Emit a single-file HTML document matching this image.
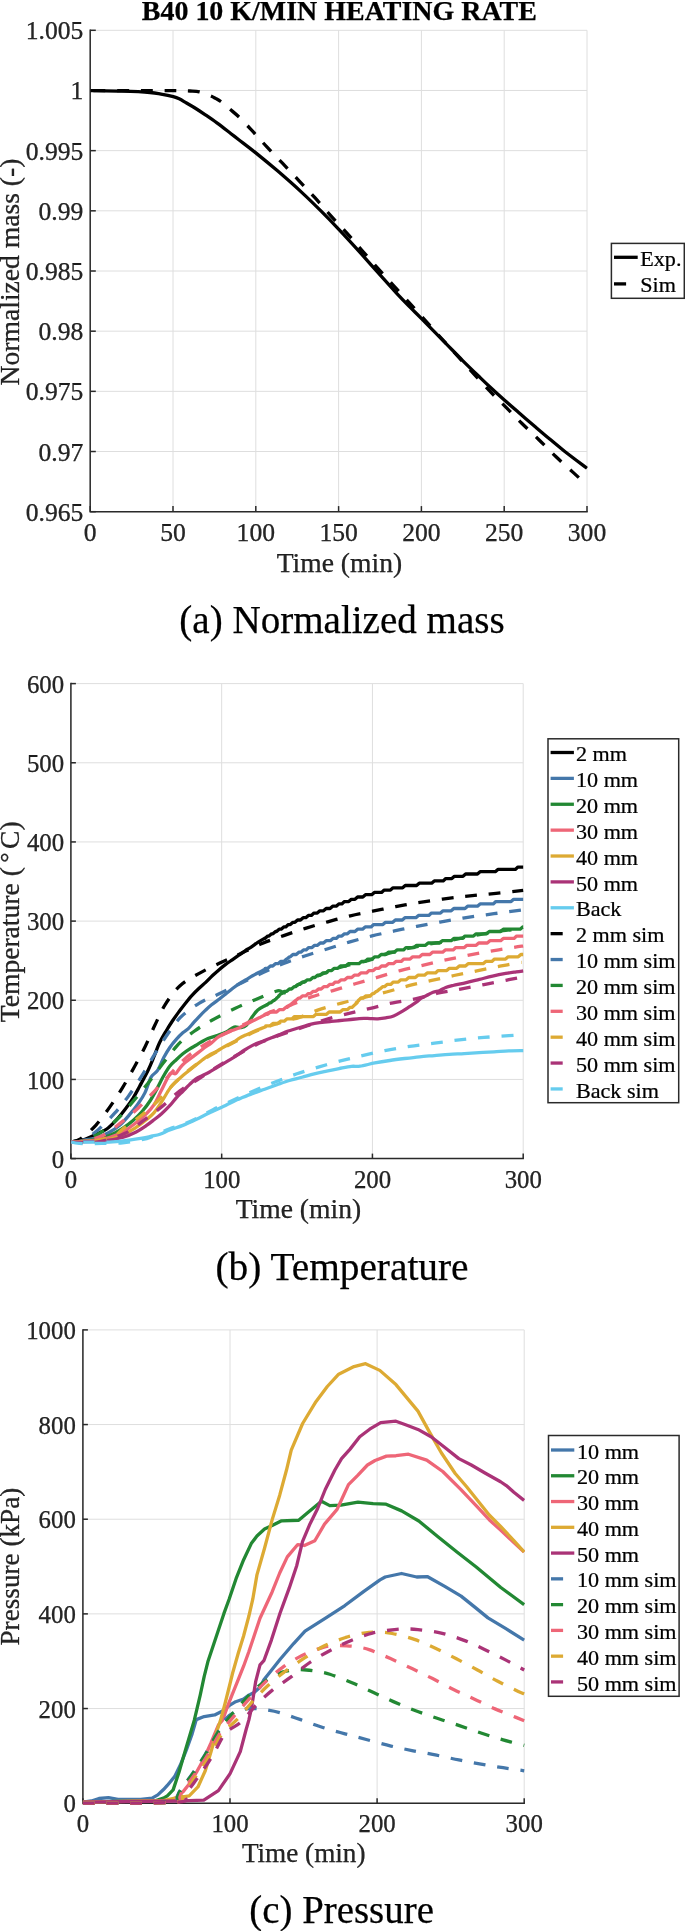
<!DOCTYPE html>
<html lang="en"><head><meta charset="utf-8"><title>B40 10 K/min heating rate</title>
<style>html,body{margin:0;padding:0;background:#fff}body{width:685px;height:1931px;overflow:hidden}svg{display:block;will-change:transform}text{font-family:"Liberation Serif", "Times New Roman", Times, serif;stroke:currentColor;stroke-width:.25px}</style>
</head><body>
<svg width="685" height="1931" viewBox="0 0 685 1931">
<rect width="685" height="1931" fill="#fff"/>
<defs>
<clipPath id="ca"><rect x="88.5" y="30.3" width="499.3" height="483.4"/></clipPath>
<clipPath id="cb"><rect x="69.2" y="683.6" width="454.8" height="477"/></clipPath>
<clipPath id="cc"><rect x="81.2" y="1329.9" width="443.8" height="475.3"/></clipPath>
</defs>
<text x="141.8" y="19.5" font-size="26.6" font-weight="bold" textLength="395" lengthAdjust="spacingAndGlyphs" fill="#000">B40 10 K/MIN HEATING RATE</text>
<g stroke="#dedede" stroke-width="1">
<line x1="90.2" y1="30.3" x2="90.2" y2="511.7"/>
<line x1="173" y1="30.3" x2="173" y2="511.7"/>
<line x1="255.8" y1="30.3" x2="255.8" y2="511.7"/>
<line x1="338.6" y1="30.3" x2="338.6" y2="511.7"/>
<line x1="421.4" y1="30.3" x2="421.4" y2="511.7"/>
<line x1="504.2" y1="30.3" x2="504.2" y2="511.7"/>
<line x1="587" y1="30.3" x2="587" y2="511.7"/>
<line x1="90.2" y1="511.7" x2="587" y2="511.7"/>
<line x1="90.2" y1="451.52" x2="587" y2="451.52"/>
<line x1="90.2" y1="391.35" x2="587" y2="391.35"/>
<line x1="90.2" y1="331.18" x2="587" y2="331.18"/>
<line x1="90.2" y1="271" x2="587" y2="271"/>
<line x1="90.2" y1="210.82" x2="587" y2="210.82"/>
<line x1="90.2" y1="150.65" x2="587" y2="150.65"/>
<line x1="90.2" y1="90.48" x2="587" y2="90.48"/>
<line x1="90.2" y1="30.3" x2="587" y2="30.3"/>
</g>
<g stroke="#2a2a2a" stroke-width="1.5" fill="none">
<path d="M90.2 29.55 V511.7 H587.75"/>
<line x1="90.2" y1="511.7" x2="90.2" y2="506.1"/>
<line x1="173" y1="511.7" x2="173" y2="506.1"/>
<line x1="255.8" y1="511.7" x2="255.8" y2="506.1"/>
<line x1="338.6" y1="511.7" x2="338.6" y2="506.1"/>
<line x1="421.4" y1="511.7" x2="421.4" y2="506.1"/>
<line x1="504.2" y1="511.7" x2="504.2" y2="506.1"/>
<line x1="587" y1="511.7" x2="587" y2="506.1"/>
<line x1="90.2" y1="511.7" x2="95.8" y2="511.7"/>
<line x1="90.2" y1="451.52" x2="95.8" y2="451.52"/>
<line x1="90.2" y1="391.35" x2="95.8" y2="391.35"/>
<line x1="90.2" y1="331.18" x2="95.8" y2="331.18"/>
<line x1="90.2" y1="271" x2="95.8" y2="271"/>
<line x1="90.2" y1="210.82" x2="95.8" y2="210.82"/>
<line x1="90.2" y1="150.65" x2="95.8" y2="150.65"/>
<line x1="90.2" y1="90.48" x2="95.8" y2="90.48"/>
<line x1="90.2" y1="30.3" x2="95.8" y2="30.3"/>
</g>
<g fill="none" stroke-width="3.3" stroke-linejoin="round" clip-path="url(#ca)">
<path d="M90.6 90.6 C95.83 90.7 112.1 90.88 122 91.2 C131.9 91.52 143.5 92.02 150 92.5 C156.5 92.98 157.12 93.4 161 94.1 C164.88 94.8 170.27 95.92 173.3 96.7 C176.33 97.48 177 97.75 179.2 98.8 C181.4 99.85 183.87 101.47 186.5 103 C189.13 104.53 191.92 106.07 195 108 C198.08 109.93 201.35 112.12 205 114.6 C208.65 117.08 212.57 119.72 216.9 122.9 C221.23 126.08 227.35 130.9 231 133.7 C234.65 136.5 234.62 136.47 238.8 139.7 C242.98 142.93 249.7 147.95 256.1 153.1 C262.5 158.25 269.55 164.02 277.2 170.6 C284.85 177.18 294.55 185.72 302 192.6 C309.45 199.48 315.77 205.78 321.9 211.9 C328.03 218.02 333.02 223.18 338.8 229.3 C344.58 235.42 350.73 242.12 356.6 248.6 C362.47 255.08 367.43 260.87 374 268.2 C380.57 275.53 390 286.1 396 292.6 C402 299.1 405.75 302.87 410 307.2 C414.25 311.53 415.5 312.53 421.5 318.6 C427.5 324.67 439.18 336.65 446 343.6 C452.82 350.55 456.9 354.82 462.4 360.3 C467.9 365.78 474.4 372.05 479 376.5 C483.6 380.95 485.78 383.08 490 387 C494.22 390.92 499.33 395.58 504.3 400 C509.27 404.42 514.6 409 519.8 413.5 C525 418 530.47 422.7 535.5 427 C540.53 431.3 545.17 435.27 550 439.3 C554.83 443.33 558.33 446.37 564.5 451.2 C570.67 456.03 583.25 465.45 587 468.3" stroke="#000000"/>
<path d="M90.6 90.6 C100.5 90.6 135.1 90.58 150 90.6 C164.9 90.62 173.33 90.63 180 90.7 C186.67 90.77 186.77 90.82 190 91 C193.23 91.18 196.02 91 199.4 91.8 C202.78 92.6 207.6 94.7 210.3 95.8 C213 96.9 213.85 97.45 215.6 98.4 C217.35 99.35 218.47 99.75 220.8 101.5 C223.13 103.25 226.53 106.28 229.6 108.9 C232.67 111.52 235.68 113.82 239.2 117.2 C242.72 120.58 247.88 126.23 250.7 129.2 C253.52 132.17 253.4 132.05 256.1 135 C258.8 137.95 262.47 142.17 266.9 146.9 C271.33 151.63 277.33 157.75 282.7 163.4 C288.07 169.05 293.73 175.08 299.1 180.8 C304.47 186.52 309.6 191.87 314.9 197.7 C320.2 203.53 325.57 209.9 330.9 215.8 C336.23 221.7 341.7 227.3 346.9 233.1 C352.1 238.9 356.97 244.77 362.1 250.6 C367.23 256.43 372.42 262.23 377.7 268.1 C382.98 273.97 388.63 280.12 393.8 285.8 C398.97 291.48 404.08 297.12 408.7 302.2 C413.32 307.28 416.02 310.23 421.5 316.3 C426.98 322.37 434.78 331.1 441.6 338.6 C448.42 346.1 454.52 352.72 462.4 361.3 C470.28 369.88 481.7 382.5 488.9 390.1 C496.1 397.7 500.08 401.33 505.6 406.9 C511.12 412.47 516.45 418.03 522 423.5 C527.55 428.97 533.27 434.2 538.9 439.7 C544.53 445.2 550.1 451.05 555.8 456.5 C561.5 461.95 567.9 467.65 573.1 472.4 C578.3 477.15 584.68 482.9 587 485" stroke="#000000" stroke-dasharray="11.8 11.8" stroke-dashoffset="20.6"/>
</g>
<g font-size="25.6" fill="#262626">
<text transform="translate(90.2 541.2)" text-anchor="middle">0</text>
<text transform="translate(173 541.2)" text-anchor="middle">50</text>
<text transform="translate(255.8 541.2)" text-anchor="middle">100</text>
<text transform="translate(338.6 541.2)" text-anchor="middle">150</text>
<text transform="translate(421.4 541.2)" text-anchor="middle">200</text>
<text transform="translate(504.2 541.2)" text-anchor="middle">250</text>
<text transform="translate(587 541.2)" text-anchor="middle">300</text>
<text transform="translate(83.3 520.7)" text-anchor="end">0.965</text>
<text transform="translate(83.3 460.52)" text-anchor="end">0.97</text>
<text transform="translate(83.3 400.35)" text-anchor="end">0.975</text>
<text transform="translate(83.3 340.18)" text-anchor="end">0.98</text>
<text transform="translate(83.3 280)" text-anchor="end">0.985</text>
<text transform="translate(83.3 219.82)" text-anchor="end">0.99</text>
<text transform="translate(83.3 159.65)" text-anchor="end">0.995</text>
<text transform="translate(83.3 99.48)" text-anchor="end">1</text>
<text transform="translate(83.3 39.3)" text-anchor="end">1.005</text>
</g>
<g font-size="27.6" fill="#262626">
<text transform="translate(339.4 571.8)" text-anchor="middle">Time (min)</text>
<text transform="translate(19 272) rotate(-90)" text-anchor="middle">Normalized mass (-)</text>
</g>
<rect x="611.4" y="243.4" width="72.9" height="54.9" fill="#fff" stroke="#2a2a2a" stroke-width="1.5"/>
<g stroke-width="3.3">
<line x1="614" y1="257.3" x2="637.7" y2="257.3" stroke="#000000"/>
<line x1="614" y1="283.9" x2="626.1" y2="283.9" stroke="#000000"/>
</g>
<g font-size="22" fill="#000">
<text transform="translate(640.3 265.5) scale(1.005 1)">Exp.</text>
<text transform="translate(640.3 292.1) scale(1.005 1)">Sim</text>
</g>
<text x="342" y="633.2" font-size="39.2" text-anchor="middle" textLength="325.4" lengthAdjust="spacingAndGlyphs" fill="#000">(a) Normalized mass</text>
<g stroke="#dedede" stroke-width="1">
<line x1="70.9" y1="683.6" x2="70.9" y2="1158.6"/>
<line x1="221.67" y1="683.6" x2="221.67" y2="1158.6"/>
<line x1="372.43" y1="683.6" x2="372.43" y2="1158.6"/>
<line x1="523.2" y1="683.6" x2="523.2" y2="1158.6"/>
<line x1="70.9" y1="1158.6" x2="523.2" y2="1158.6"/>
<line x1="70.9" y1="1079.43" x2="523.2" y2="1079.43"/>
<line x1="70.9" y1="1000.27" x2="523.2" y2="1000.27"/>
<line x1="70.9" y1="921.1" x2="523.2" y2="921.1"/>
<line x1="70.9" y1="841.93" x2="523.2" y2="841.93"/>
<line x1="70.9" y1="762.77" x2="523.2" y2="762.77"/>
<line x1="70.9" y1="683.6" x2="523.2" y2="683.6"/>
</g>
<g stroke="#2a2a2a" stroke-width="1.5" fill="none">
<path d="M70.9 682.85 V1158.6 H523.95"/>
<line x1="70.9" y1="1158.6" x2="70.9" y2="1153.6"/>
<line x1="221.67" y1="1158.6" x2="221.67" y2="1153.6"/>
<line x1="372.43" y1="1158.6" x2="372.43" y2="1153.6"/>
<line x1="523.2" y1="1158.6" x2="523.2" y2="1153.6"/>
<line x1="70.9" y1="1158.6" x2="75.9" y2="1158.6"/>
<line x1="70.9" y1="1079.43" x2="75.9" y2="1079.43"/>
<line x1="70.9" y1="1000.27" x2="75.9" y2="1000.27"/>
<line x1="70.9" y1="921.1" x2="75.9" y2="921.1"/>
<line x1="70.9" y1="841.93" x2="75.9" y2="841.93"/>
<line x1="70.9" y1="762.77" x2="75.9" y2="762.77"/>
<line x1="70.9" y1="683.6" x2="75.9" y2="683.6"/>
</g>
<g fill="none" stroke-width="3.3" stroke-linejoin="round" clip-path="url(#cb)">
<path d="M71.2 1141.9 C73.19 1141.56 78.96 1141.16 83.14 1139.88 C87.32 1138.61 92.34 1136.05 96.28 1134.23 C100.22 1132.42 103.5 1131.28 106.79 1128.98 C110.07 1126.68 112.92 1123.72 115.99 1120.44 C119.05 1117.15 122.34 1112.99 125.18 1109.27 C128.03 1105.55 130.66 1101.93 133.07 1098.1 C135.48 1094.27 137.11 1090.96 139.64 1086.28 C142.17 1081.59 145.83 1075.01 148.25 1070 C150.67 1064.99 152.3 1060.69 154.16 1056.21 C156.02 1051.72 157.45 1047.23 159.42 1043.07 C161.39 1038.91 163.8 1034.96 165.99 1031.24 C168.18 1027.52 170.37 1024.02 172.56 1020.73 C174.75 1017.45 176.94 1014.49 179.12 1011.53 C181.31 1008.58 183.5 1005.73 185.69 1002.99 C187.88 1000.26 190.07 997.52 192.26 995.11 C194.45 992.7 196.59 990.66 198.83 988.54 C201.07 986.42 203.41 984.54 205.69 982.37 C207.98 980.21 210.32 977.67 212.56 975.55 C214.79 973.43 216.94 971.5 219.12 969.64 C221.31 967.77 223.5 966.02 225.69 964.38 C227.88 962.74 230.07 961.31 232.26 959.78 C234.45 958.25 236.64 956.72 238.83 955.18 C241.02 953.65 243.41 951.89 245.4 950.58 C247.39 949.28 248.66 948.76 250.79 947.35 C252.91 945.95 255.82 943.68 258.14 942.15 C260.46 940.63 263.61 938.84 264.71 938.21 C265.8 937.59 264.71 938.37 264.71 938.4 L265.05 938.4 L267.65 936.1 L268.99 936.1 L271.59 933.8 L272.93 933.8 L275.53 931.5 L276.55 931.5 L279.15 929.2 L281.15 929.2 L283.75 926.9 L285.74 926.9 L288.34 924.6 L290.34 924.6 L292.94 922.3 L294.94 922.3 L297.54 920 L300.53 920 L303.13 917.7 L305.78 917.7 L308.38 915.4 L311.37 915.4 L313.97 913.1 L317.28 913.1 L319.88 910.8 L323.52 910.8 L326.12 908.5 L330.05 908.5 L332.65 906.2 L336.23 906.2 L338.83 903.9 L341.84 903.9 L344.44 901.6 L348.74 901.6 L351.34 899.3 L354.98 899.3 L357.58 897 L362.86 897 L365.46 894.7 L371.73 894.7 L374.33 892.4 L381.58 892.4 L384.18 890.1 L390.45 890.1 L393.05 887.8 L402.64 887.8 L405.24 885.5 L416.61 885.5 L419.21 883.2 L431.65 883.2 L434.25 880.9 L443.15 880.9 L445.75 878.6 L451.84 878.6 L454.44 876.3 L463.01 876.3 L465.61 874 L477.46 874 L480.06 871.7 L495.28 871.7 L497.88 869.4 L515.34 869.4 L517.94 867.1 L523.17 867.1" stroke="#000000"/>
<path d="M71.2 1141.9 C75.38 1141.21 89.91 1139.39 96.28 1137.78 C102.65 1136.18 105.47 1134.39 109.42 1132.26 C113.36 1130.14 116.64 1127.88 119.93 1125.04 C123.21 1122.19 126.06 1118.8 129.12 1115.18 C132.19 1111.57 135.69 1107.08 138.32 1103.36 C140.95 1099.64 142.76 1097.21 144.89 1092.85 C147.02 1088.48 148.98 1080.9 151.1 1077.17 C153.21 1073.44 155.46 1073.77 157.59 1070.46 C159.73 1067.14 161.87 1061.14 163.91 1057.3 C165.94 1053.46 167.72 1050.47 169.82 1047.45 C171.92 1044.42 174.29 1041.61 176.5 1039.12 C178.71 1036.64 181.1 1034.31 183.07 1032.56 C185.04 1030.8 186.57 1030.26 188.32 1028.61 C190.07 1026.97 191.73 1024.75 193.58 1022.7 C195.43 1020.65 197.46 1018.36 199.42 1016.31 C201.38 1014.26 203.3 1012.32 205.33 1010.4 C207.35 1008.49 209.17 1006.76 211.57 1004.82 C213.97 1002.88 217.26 1000.65 219.71 998.76 C222.16 996.87 224.09 995.26 226.28 993.5 C228.47 991.75 230.66 989.89 232.85 988.25 C235.04 986.61 237.23 985.07 239.42 983.65 C241.61 982.23 243.8 981.02 245.99 979.71 C248.18 978.39 250.45 976.98 252.56 975.77 C254.66 974.55 256.52 973.53 258.63 972.43 C260.74 971.32 264.11 969.83 265.2 969.14 C266.3 968.46 265.2 968.44 265.2 968.3 L267.84 968.3 L270.44 966 L272.77 966 L275.37 963.7 L278.03 963.7 L280.63 961.4 L283.92 961.4 L286.52 959.1 L286.95 959.1 L289.55 956.8 L290.32 956.8 L292.92 954.5 L296.26 954.5 L298.86 952.2 L300.85 952.2 L303.45 949.9 L306.11 949.9 L308.71 947.6 L312.02 947.6 L314.62 945.3 L317.61 945.3 L320.21 943 L323.52 943 L326.12 940.7 L330.36 940.7 L332.96 938.4 L336.23 938.4 L338.83 936.1 L341.84 936.1 L344.44 933.8 L347.42 933.8 L350.02 931.5 L354.98 931.5 L357.58 929.2 L362.53 929.2 L365.13 926.9 L371.07 926.9 L373.67 924.6 L382.9 924.6 L385.5 922.3 L392.75 922.3 L395.35 920 L402.28 920 L404.88 917.7 L415.88 917.7 L418.48 915.4 L428.82 915.4 L431.42 913.1 L440.48 913.1 L443.08 910.8 L451.2 910.8 L453.8 908.5 L464.98 908.5 L467.58 906.2 L477.46 906.2 L480.06 903.9 L493.25 903.9 L495.85 901.6 L511.08 901.6 L513.68 899.3 L523.17 899.3" stroke="#4477AA"/>
<path d="M71.2 1141.9 C75.38 1141.5 89.91 1140.55 96.28 1139.49 C102.65 1138.43 105.04 1137.41 109.42 1135.55 C113.8 1133.69 118.61 1130.84 122.56 1128.32 C126.5 1125.8 129.78 1123.29 133.07 1120.44 C136.35 1117.59 139.42 1114.53 142.26 1111.24 C145.11 1107.96 147.64 1104.59 150.15 1100.73 C152.65 1096.87 155.13 1092.09 157.3 1088.1 C159.47 1084.11 161.07 1080.43 163.14 1076.79 C165.21 1073.15 167.52 1069.12 169.71 1066.28 C171.9 1063.43 174.09 1061.79 176.28 1059.71 C178.47 1057.63 180.66 1055.55 182.85 1053.8 C185.04 1052.04 187.23 1050.62 189.42 1049.2 C191.61 1047.77 194.01 1046.45 195.99 1045.26 C197.96 1044.06 199.29 1043.16 201.28 1042.04 C203.26 1040.93 205.25 1039.65 207.88 1038.57 C210.52 1037.49 214.01 1036.64 217.08 1035.55 C220.15 1034.45 223.43 1033.42 226.28 1032 C229.12 1030.58 231.7 1027.73 234.16 1027.01 C236.62 1026.29 238.98 1027.99 241.06 1027.67 C243.14 1027.34 244.78 1026.84 246.64 1025.04 C248.5 1023.23 250.37 1019.34 252.23 1016.83 C254.09 1014.31 255.57 1011.84 257.81 1009.93 C260.06 1008.01 264.38 1006.13 265.69 1005.33 C267.01 1004.52 265.69 1005.14 265.69 1005.1 L266.95 1005.1 L269.55 1002.8 L270.88 1002.8 L273.48 1000.5 L274.07 1000.5 L276.67 998.2 L276.5 998.2 L279.1 995.9 L278.6 995.9 L281.2 993.6 L281.92 993.6 L284.52 991.3 L286.77 991.3 L289.37 989 L291.48 989 L294.08 986.7 L295.45 986.7 L298.05 984.4 L299.85 984.4 L302.45 982.1 L304.72 982.1 L307.32 979.8 L310.31 979.8 L312.91 977.5 L314.9 977.5 L317.5 975.2 L320.16 975.2 L322.76 972.9 L326.07 972.9 L328.67 970.6 L331.66 970.6 L334.26 968.3 L337.9 968.3 L340.5 966 L345.78 966 L348.38 963.7 L358.92 963.7 L361.52 961.4 L365.18 961.4 L367.78 959.1 L372.19 959.1 L374.79 956.8 L378.53 956.8 L381.13 954.5 L385.78 954.5 L388.38 952.2 L394.32 952.2 L396.92 949.9 L403.52 949.9 L406.12 947.6 L414.03 947.6 L416.63 945.3 L425.53 945.3 L428.13 943 L439.66 943 L442.26 940.7 L451.17 940.7 L453.77 938.4 L462.35 938.4 L464.95 936.1 L473.52 936.1 L476.12 933.8 L486.66 933.8 L489.26 931.5 L500.65 931.5 L503.25 929.2 L520.09 929.2 L522.69 926.9 L523.17 926.9" stroke="#228833"/>
<path d="M71.2 1141.9 C75.38 1141.61 89.91 1140.88 96.28 1140.15 C102.65 1139.42 105.04 1138.83 109.42 1137.52 C113.8 1136.21 118.18 1134.67 122.56 1132.26 C126.94 1129.86 131.75 1126.13 135.69 1123.07 C139.64 1120 143.14 1116.94 146.21 1113.87 C149.27 1110.8 151.53 1108.64 154.09 1104.67 C156.65 1100.71 158.91 1095.21 161.57 1090.07 C164.23 1084.93 167.7 1076.57 170.04 1073.83 C172.38 1071.09 173.92 1074.68 175.62 1073.64 C177.32 1072.6 178.58 1069.47 180.22 1067.59 C181.86 1065.71 183.29 1064.2 185.47 1062.34 C187.66 1060.47 190.51 1058.61 193.36 1056.42 C196.21 1054.23 199.49 1051.5 202.56 1049.2 C205.62 1046.9 209.22 1044.61 211.75 1042.63 C214.28 1040.65 215.32 1038.94 217.74 1037.32 C220.16 1035.7 223.76 1034.09 226.28 1032.92 C228.8 1031.75 230.66 1031.17 232.85 1030.29 C235.04 1029.42 237.23 1028.65 239.42 1027.67 C241.61 1026.68 243.8 1025.48 245.99 1024.38 C248.18 1023.29 250.37 1022.19 252.56 1021.1 C254.75 1020 256.94 1018.91 259.12 1017.81 C261.31 1016.72 264.6 1015.11 265.69 1014.53 C266.79 1013.94 265.69 1014.34 265.69 1014.3 L267.68 1014.3 L270.28 1012 L276.62 1012 L279.22 1009.7 L283.07 1009.7 L285.67 1007.4 L287.04 1007.4 L289.64 1005.1 L290.22 1005.1 L292.82 1002.8 L292.89 1002.8 L295.49 1000.5 L295.76 1000.5 L298.36 998.2 L299.77 998.2 L302.37 995.9 L305.71 995.9 L308.31 993.6 L310.63 993.6 L313.23 991.3 L315.89 991.3 L318.49 989 L321.15 989 L323.75 986.7 L327.06 986.7 L329.66 984.4 L332.64 984.4 L335.24 982.1 L338.55 982.1 L341.15 979.8 L344.8 979.8 L347.4 977.5 L351.69 977.5 L354.29 975.2 L358.22 975.2 L360.82 972.9 L366.51 972.9 L369.11 970.6 L373.31 970.6 L375.91 968.3 L378.98 968.3 L381.58 966 L385.78 966 L388.38 963.7 L393.34 963.7 L395.94 961.4 L401.22 961.4 L403.82 959.1 L410.09 959.1 L412.69 956.8 L419.61 956.8 L422.21 954.5 L429.87 954.5 L432.47 952.2 L442.65 952.2 L445.25 949.9 L453.15 949.9 L455.75 947.6 L464.32 947.6 L466.92 945.3 L476.15 945.3 L478.75 943 L487.31 943 L489.91 940.7 L500.65 940.7 L503.25 938.4 L514.01 938.4 L516.61 936.1 L523.17 936.1" stroke="#EE6677"/>
<path d="M71.2 1141.9 C76.47 1141.65 94.29 1141.58 102.85 1140.41 C111.41 1139.24 117.08 1137.02 122.56 1134.89 C128.03 1132.77 131.75 1130.18 135.69 1127.67 C139.64 1125.15 143.14 1122.3 146.21 1119.78 C149.27 1117.26 151.53 1115.54 154.09 1112.56 C156.65 1109.57 158.97 1105.89 161.57 1101.9 C164.17 1097.91 167.26 1092.03 169.71 1088.61 C172.16 1085.2 174.09 1083.58 176.28 1081.39 C178.47 1079.2 180.66 1077.34 182.85 1075.47 C185.04 1073.61 187.23 1071.97 189.42 1070.22 C191.61 1068.47 193.8 1066.72 195.99 1064.96 C198.18 1063.21 200.37 1061.35 202.56 1059.71 C204.75 1058.07 206.94 1056.42 209.12 1055.11 C211.31 1053.8 213.5 1053.03 215.69 1051.82 C217.88 1050.62 220.29 1049.02 222.26 1047.88 C224.24 1046.75 225.58 1046.03 227.56 1045 C229.53 1043.97 232.15 1042.85 234.12 1041.72 C236.1 1040.58 237.44 1039.31 239.42 1038.18 C241.39 1037.04 243.8 1035.92 245.99 1034.89 C248.18 1033.86 250.37 1032.94 252.56 1032 C254.75 1031.06 256.94 1030.12 259.12 1029.24 C261.31 1028.37 264.6 1027.32 265.69 1026.75 C266.79 1026.17 265.69 1025.96 265.69 1025.8 L270.31 1025.8 L272.91 1023.5 L277.86 1023.5 L280.46 1021.2 L284.22 1021.2 L286.82 1018.9 L291.85 1018.9 L294.45 1016.6 L313.44 1016.6 L316.04 1014.3 L326.52 1014.3 L329.12 1012 L340.12 1012 L342.72 1009.7 L347.2 1009.7 L349.8 1007.4 L351.94 1007.4 L354.54 1005.1 L354.57 1005.1 L357.17 1002.8 L356.17 1002.8 L358.77 1000.5 L358.26 1000.5 L360.86 998.2 L363.03 998.2 L365.63 995.9 L370.07 995.9 L372.67 993.6 L373.83 993.6 L376.43 991.3 L377.04 991.3 L379.64 989 L379.99 989 L382.59 986.7 L384.47 986.7 L387.07 984.4 L390.71 984.4 L393.31 982.1 L398.26 982.1 L400.86 979.8 L406.15 979.8 L408.75 977.5 L415.34 977.5 L417.94 975.2 L424.54 975.2 L427.14 972.9 L435.53 972.9 L438.13 970.6 L446.75 970.6 L449.35 968.3 L456.71 968.3 L459.31 966 L465.49 966 L468.09 963.7 L483.13 963.7 L485.73 961.4 L491.86 961.4 L494.46 959.1 L505.57 959.1 L508.17 956.8 L518.28 956.8 L520.88 954.5 L523.17 954.5" stroke="#DDAA33"/>
<path d="M71.2 1141.9 C76.47 1141.72 94.29 1141.53 102.85 1140.8 C111.41 1140.07 117.08 1138.94 122.56 1137.52 C128.03 1136.1 131.75 1134.23 135.69 1132.26 C139.64 1130.29 143.14 1127.77 146.21 1125.69 C149.27 1123.61 151.53 1121.78 154.09 1119.78 C156.65 1117.79 158.97 1116.07 161.57 1113.72 C164.17 1111.38 167.26 1108.35 169.71 1105.69 C172.16 1103.04 174.09 1100.22 176.28 1097.81 C178.47 1095.4 180.66 1093.43 182.85 1091.24 C185.04 1089.05 187.23 1086.75 189.42 1084.67 C191.61 1082.59 193.8 1080.29 195.99 1078.76 C198.18 1077.23 200.37 1076.57 202.56 1075.47 C204.75 1074.38 206.94 1073.39 209.12 1072.19 C211.31 1070.99 213.5 1069.56 215.69 1068.25 C217.88 1066.93 220.07 1065.62 222.26 1064.31 C224.45 1062.99 226.64 1061.68 228.83 1060.37 C231.02 1059.05 232.76 1058.15 235.4 1056.42 C238.04 1054.7 241.81 1051.84 244.67 1050 C247.53 1048.16 250.15 1046.65 252.56 1045.4 C254.96 1044.15 256.94 1043.39 259.12 1042.51 C261.31 1041.64 263.5 1040.98 265.69 1040.15 C267.88 1039.32 270.07 1038.4 272.26 1037.52 C274.45 1036.64 276.64 1035.81 278.83 1034.89 C281.02 1033.97 283.28 1032.82 285.4 1032 C287.53 1031.19 289.45 1030.66 291.57 1030 C293.69 1029.34 295.95 1028.69 298.14 1028.03 C300.33 1027.37 302.52 1026.72 304.71 1026.06 C306.9 1025.4 309.09 1024.64 311.28 1024.09 C313.47 1023.54 315.66 1023.1 317.85 1022.77 C320.04 1022.45 322.23 1022.34 324.42 1022.12 C326.61 1021.9 328.8 1021.68 330.99 1021.46 C333.18 1021.24 335.37 1021.02 337.56 1020.8 C339.75 1020.59 341.94 1020.37 344.12 1020.15 C346.31 1019.93 348.5 1019.71 350.69 1019.49 C352.88 1019.27 355.07 1019.03 357.26 1018.83 C359.45 1018.64 361.68 1018.34 363.83 1018.31 C365.99 1018.27 367.86 1018.54 370.2 1018.62 C372.54 1018.7 375.29 1018.93 377.88 1018.8 C380.48 1018.68 383.14 1018.37 385.77 1017.88 C388.39 1017.4 390.91 1017.01 393.65 1015.91 C396.39 1014.82 399.56 1012.85 402.19 1011.32 C404.82 1009.78 407.06 1008.25 409.42 1006.72 C411.77 1005.18 414.34 1003.54 416.31 1002.12 C418.29 1000.69 419.54 999.27 421.24 998.18 C422.94 997.08 424.53 996.53 426.5 995.55 C428.47 994.56 430.85 993.12 433.07 992.26 C435.29 991.41 437.71 991.22 439.82 990.42 C441.93 989.62 443.54 988.29 445.73 987.46 C447.92 986.64 449.53 986.29 452.96 985.49 C456.38 984.69 461.87 983.68 466.28 982.67 C470.69 981.65 475.04 980.48 479.42 979.38 C483.8 978.29 488.18 977.08 492.56 976.1 C496.94 975.11 501.75 974.17 505.69 973.47 C509.64 972.77 513.29 972.31 516.21 971.89 C519.12 971.48 522.01 971.12 523.17 970.97" stroke="#AA3377"/>
<path d="M71.2 1141.9 C74.28 1141.94 83.34 1142.08 89.71 1142.12 C96.08 1142.15 102.85 1142.45 109.42 1142.12 C115.99 1141.79 123.65 1140.8 129.12 1140.15 C134.6 1139.49 138.54 1138.83 142.26 1138.18 C145.99 1137.52 148.5 1136.86 151.46 1136.21 C154.42 1135.55 156.96 1135.27 160 1134.23 C163.04 1133.2 165.9 1131.47 169.71 1130 C173.52 1128.53 178.47 1127.15 182.85 1125.4 C187.23 1123.65 191.61 1121.57 195.99 1119.49 C200.37 1117.41 204.75 1115 209.12 1112.92 C213.5 1110.84 217.88 1109.09 222.26 1107.01 C226.64 1104.93 232.48 1101.84 235.4 1100.44 C238.33 1099.04 237.01 1099.74 239.81 1098.61 C242.62 1097.48 248.09 1095.22 252.22 1093.65 C256.36 1092.08 260.49 1090.67 264.63 1089.18 C268.76 1087.69 272.9 1086.16 277.03 1084.71 C281.17 1083.27 285.31 1081.74 289.44 1080.5 C293.58 1079.26 297.71 1078.39 301.85 1077.27 C305.98 1076.15 310.12 1074.83 314.26 1073.8 C318.39 1072.76 322.53 1071.94 326.66 1071.07 C330.8 1070.2 334.93 1069.37 339.07 1068.59 C343.21 1067.8 347.99 1066.75 351.48 1066.35 C354.96 1065.96 356.1 1066.77 360 1066.2 C363.9 1065.64 369.93 1063.93 374.89 1062.98 C379.85 1062.03 384.81 1061.24 389.78 1060.5 C394.74 1059.75 399.7 1059.13 404.67 1058.51 C409.63 1057.89 414.59 1057.27 419.55 1056.77 C424.52 1056.28 429.48 1055.95 434.44 1055.53 C439.4 1055.12 444.37 1054.62 449.33 1054.29 C454.29 1053.96 459.26 1053.84 464.22 1053.55 C469.18 1053.26 474.14 1052.85 479.11 1052.56 C484.07 1052.27 489.03 1052.1 494 1051.81 C498.96 1051.52 504 1051.03 508.88 1050.82 C513.76 1050.61 520.88 1050.61 523.28 1050.57" stroke="#66CCEE"/>
<path d="M71.2 1141.9 C72.75 1141.39 76.38 1141.64 80.51 1138.83 C84.65 1136.02 91.09 1130.4 96.01 1125.04 C100.94 1119.67 105.65 1112.88 110.07 1106.64 C114.5 1100.4 118.49 1094.25 122.56 1087.59 C126.62 1080.94 130.72 1073.48 134.45 1066.72 C138.19 1059.95 141.57 1053.91 144.96 1047.01 C148.36 1040.11 151.42 1032.45 154.82 1025.33 C158.21 1018.21 161.17 1010.86 165.33 1004.31 C169.48 997.75 174.17 991.11 179.75 985.99 C185.32 980.86 192.09 977.4 198.76 973.58 C205.43 969.76 213.1 966.24 219.78 963.07 C226.46 959.89 231.78 957.79 238.83 954.53 C245.88 951.26 254.59 946.62 262.08 943.47 C269.57 940.31 276.53 938.1 283.76 935.58 C290.99 933.07 298.1 930.66 305.44 928.36 C312.77 926.06 320.29 923.88 327.77 921.79 C335.26 919.7 342.88 917.6 350.37 915.84 C357.85 914.08 365.15 912.77 372.7 911.24 C380.26 909.71 388.25 908.07 395.69 906.64 C403.14 905.22 409.55 903.97 417.37 902.7 C425.2 901.43 434.7 900.07 442.63 899.02 C450.56 897.96 457.41 897.2 464.96 896.39 C472.52 895.58 480.29 894.92 487.96 894.15 C495.62 893.39 505.08 892.4 510.95 891.79 C516.82 891.18 521.13 890.69 523.17 890.47" stroke="#000000" stroke-dasharray="11.8 11.8"/>
<path d="M71.2 1141.9 C73.19 1141.65 78.63 1142.45 83.14 1140.41 C87.65 1138.37 92.99 1134.17 98.25 1129.64 C103.5 1125.1 109.64 1118.8 114.67 1113.21 C119.71 1107.63 123.87 1102.48 128.47 1096.13 C133.07 1089.78 138.09 1081.76 142.26 1075.11 C146.44 1068.46 149.55 1062.64 153.5 1056.21 C157.46 1049.77 161.5 1042.96 165.99 1036.5 C170.48 1030.04 174.87 1023 180.44 1017.45 C186.01 1011.89 192.87 1007.17 199.42 1003.18 C205.96 999.19 209.1 998.62 219.71 993.5 C230.32 988.39 252.42 977.47 263.07 972.48 C273.71 967.49 276.64 966.31 283.6 963.56 C290.55 960.8 297.53 958.38 304.78 955.95 C312.04 953.52 319.74 951.29 327.12 948.99 C334.5 946.68 341.56 944.29 349.05 942.12 C356.54 939.94 364.49 937.8 372.04 935.94 C379.6 934.08 386.94 932.55 394.38 930.95 C401.83 929.35 409.11 927.84 416.72 926.35 C424.32 924.86 432.29 923.39 440 922.01 C447.71 920.63 455.33 919.27 462.99 918.07 C470.66 916.86 478.32 915.83 485.99 914.78 C493.65 913.73 502.78 912.57 508.98 911.76 C515.18 910.95 520.8 910.23 523.17 909.92" stroke="#4477AA" stroke-dasharray="11.8 11.8"/>
<path d="M71.2 1141.9 C73.19 1141.72 78.3 1142.3 83.14 1140.8 C87.98 1139.31 94.42 1136.64 100.22 1132.92 C106.02 1129.2 112.48 1123.72 117.96 1118.47 C123.43 1113.21 128.03 1107.3 133.07 1101.39 C138.1 1095.47 140.94 1092.17 148.18 1082.99 C155.41 1073.82 168.82 1054.98 176.5 1046.35 C184.17 1037.73 188.33 1035.59 194.23 1031.24 C200.13 1026.89 205.13 1024.03 211.9 1020.26 C218.66 1016.48 227.49 1012.09 234.82 1008.61 C242.14 1005.14 248.72 1002.37 255.84 999.42 C262.96 996.46 272.66 992.02 277.52 990.88 C282.38 989.73 281.34 993.7 285 992.56 C288.66 991.41 293.54 986.97 299.45 984.02 C305.37 981.06 314.12 977.47 320.47 974.82 C326.83 972.17 332.52 969.85 337.56 968.12 C342.59 966.39 346.31 965.53 350.69 964.44 C355.07 963.34 359.78 962.58 363.83 961.55 C367.88 960.52 371.78 959.36 375 958.26 C378.22 957.16 379.59 956.09 383.14 954.95 C386.68 953.81 391.9 952.54 396.28 951.4 C400.66 950.26 405.04 949.1 409.42 948.12 C413.8 947.13 418.18 946.37 422.56 945.49 C426.94 944.61 432.79 943.37 435.69 942.86 C438.6 942.36 437.09 942.97 440 942.46 C442.91 941.96 448.76 940.71 453.14 939.83 C457.52 938.96 461.9 938.08 466.28 937.2 C470.66 936.33 475.04 935.39 479.42 934.58 C483.8 933.77 488.18 933.04 492.56 932.34 C496.94 931.64 501.75 930.88 505.69 930.37 C509.64 929.87 513.29 929.63 516.21 929.32 C519.12 929.01 522.01 928.66 523.17 928.53" stroke="#228833" stroke-dasharray="11.8 11.8"/>
<path d="M71.2 1141.9 C73.19 1141.78 77.86 1142.26 83.14 1141.2 C88.41 1140.14 96.5 1138.68 102.85 1135.55 C109.2 1132.42 115.33 1127.01 121.24 1122.41 C127.15 1117.81 132.85 1113.1 138.32 1107.96 C143.8 1102.81 148.86 1097.06 154.09 1091.53 C159.32 1086.01 164.37 1080.45 169.71 1074.82 C175.05 1069.19 180.33 1062.77 186.13 1057.74 C191.93 1052.7 197.84 1048.73 204.53 1044.6 C211.22 1040.46 219.37 1036.44 226.28 1032.92 C233.19 1029.4 238.98 1026.81 245.99 1023.46 C252.99 1020.11 260.99 1015.84 268.32 1012.82 C275.66 1009.8 282.95 1007.94 290 1005.33 C297.05 1002.72 303.46 999.61 310.62 997.15 C317.78 994.7 325.51 992.82 332.96 990.58 C340.4 988.35 348.05 985.91 355.29 983.75 C362.54 981.59 368.95 979.82 376.44 977.63 C383.93 975.43 392.53 972.63 400.22 970.58 C407.9 968.53 415.19 967.06 422.56 965.33 C429.92 963.6 436.91 961.84 444.42 960.2 C451.92 958.56 459.9 956.98 467.59 955.47 C475.29 953.96 482.92 952.47 490.58 951.13 C498.25 949.8 508.15 948.31 513.58 947.45 C519.01 946.6 521.57 946.25 523.17 946.01" stroke="#EE6677" stroke-dasharray="11.8 11.8"/>
<path d="M71.2 1141.9 C74.28 1141.87 82.68 1142.67 89.71 1141.72 C96.73 1140.77 107.77 1138.4 113.36 1136.21 C118.94 1134.02 118.5 1132.09 123.21 1128.58 C127.92 1125.08 135.8 1119.83 141.61 1115.18 C147.41 1110.54 152.36 1106.25 158.03 1100.73 C163.7 1095.21 169.51 1087.9 175.62 1082.04 C181.73 1076.19 188.43 1070.33 194.67 1065.62 C200.91 1060.91 206.66 1057.62 213.07 1053.8 C219.48 1049.98 226.12 1046.4 233.14 1042.7 C240.16 1039 248.44 1034.62 255.18 1031.61 C261.92 1028.6 267.77 1026.61 273.58 1024.64 C279.38 1022.67 285.69 1020.97 290 1019.78 C294.31 1018.59 294.59 1019.21 299.45 1017.52 C304.31 1015.83 312.15 1012.04 319.16 1009.64 C326.17 1007.23 334.27 1005.04 341.5 1003.07 C348.72 1001.1 355.03 999.66 362.52 997.81 C370.01 995.97 378.72 994.02 386.42 992 C394.13 989.98 401.2 987.62 408.76 985.69 C416.31 983.77 424.22 982.14 431.75 980.44 C439.28 978.74 446.44 977.11 453.94 975.51 C461.45 973.91 469.15 972.38 476.79 970.84 C484.43 969.3 492.3 967.67 499.78 966.24 C507.26 964.82 518.01 962.96 521.66 962.3" stroke="#DDAA33" stroke-dasharray="11.8 11.8"/>
<path d="M71.2 1141.9 C75.38 1141.94 87.39 1143.51 96.28 1142.12 C105.17 1140.73 116.64 1137.19 124.53 1133.58 C132.41 1129.96 137.46 1124.84 143.58 1120.44 C149.7 1116.03 155.13 1112.13 161.24 1107.15 C167.35 1102.18 173.77 1095.43 180.22 1090.58 C186.67 1085.74 193.47 1082.26 199.93 1078.1 C206.39 1073.94 212.63 1069.56 218.98 1065.62 C225.33 1061.68 230.9 1058.37 238.03 1054.45 C245.16 1050.54 254.95 1045.27 261.75 1042.12 C268.55 1038.97 271.35 1038.22 278.83 1035.55 C286.32 1032.87 298.86 1028.74 306.68 1026.06 C314.5 1023.38 318.83 1021.57 325.73 1019.49 C332.63 1017.41 340.62 1015.44 348.07 1013.58 C355.51 1011.72 362.91 1010.12 370.4 1008.32 C377.89 1006.52 385.51 1004.36 392.99 1002.77 C400.48 1001.19 407.66 1000.48 415.33 998.83 C422.99 997.19 431.45 994.54 438.98 992.92 C446.51 991.3 453.01 990.49 460.51 989.11 C468.02 987.73 476.27 986.15 484.02 984.64 C491.76 983.12 500.48 981.31 507.01 980.04 C513.53 978.77 520.48 977.52 523.17 977.02" stroke="#AA3377" stroke-dasharray="11.8 11.8"/>
<path d="M71.2 1141.9 C72.53 1142.16 74.14 1143.18 79.2 1143.43 C84.25 1143.69 94.31 1143.54 101.53 1143.43 C108.76 1143.32 116.42 1143.28 122.56 1142.77 C128.69 1142.27 133.5 1141.4 138.32 1140.41 C143.14 1139.42 146.23 1138.82 151.46 1136.86 C156.69 1134.91 164.48 1130.75 169.71 1128.69 C174.94 1126.62 178.47 1126.13 182.85 1124.48 C187.23 1122.84 190.95 1121.31 195.99 1118.83 C201.02 1116.36 206.72 1112.81 213.07 1109.64 C219.42 1106.46 227.15 1102.98 234.09 1099.78 C241.03 1096.58 247.75 1093.43 254.7 1090.42 C261.65 1087.41 268.76 1084.51 275.79 1081.74 C282.82 1078.97 289.65 1076.28 296.89 1073.8 C304.12 1071.32 311.77 1069.04 319.22 1066.85 C326.66 1064.66 334.75 1062.41 341.55 1060.65 C348.35 1058.88 352.79 1057.96 360 1056.28 C367.21 1054.6 376.54 1052.22 384.81 1050.57 C393.09 1048.92 401.36 1047.59 409.63 1046.35 C417.9 1045.11 426.17 1044.2 434.44 1043.13 C442.71 1042.05 450.98 1040.85 459.26 1039.9 C467.53 1038.95 475.8 1038.12 484.07 1037.42 C492.34 1036.72 502.35 1036.18 508.88 1035.68 C515.42 1035.19 520.88 1034.65 523.28 1034.44" stroke="#66CCEE" stroke-dasharray="11.8 11.8"/>
</g>
<g font-size="24.8" fill="#262626">
<text transform="translate(71 1188.1)" text-anchor="middle">0</text>
<text transform="translate(221.77 1188.1)" text-anchor="middle">100</text>
<text transform="translate(372.53 1188.1)" text-anchor="middle">200</text>
<text transform="translate(523.3 1188.1)" text-anchor="middle">300</text>
<text transform="translate(64.1 1167.8)" text-anchor="end">0</text>
<text transform="translate(64.1 1088.63)" text-anchor="end">100</text>
<text transform="translate(64.1 1009.47)" text-anchor="end">200</text>
<text transform="translate(64.1 930.3)" text-anchor="end">300</text>
<text transform="translate(64.1 851.13)" text-anchor="end">400</text>
<text transform="translate(64.1 771.97)" text-anchor="end">500</text>
<text transform="translate(64.1 692.8)" text-anchor="end">600</text>
</g>
<g font-size="27.6" fill="#262626">
<text transform="translate(298.4 1218.4)" text-anchor="middle">Time (min)</text>
<text transform="translate(18.9 921.8) rotate(-90)" text-anchor="middle">Temperature (<tspan dx="4.4" dy="-2" font-size="26">°</tspan><tspan dx="3.4" dy="2">C)</tspan></text>
</g>
<rect x="548" y="738.8" width="130.7" height="363.9" fill="#fff" stroke="#2a2a2a" stroke-width="1.5"/>
<g stroke-width="3.3">
<line x1="550.6" y1="752.5" x2="573.9" y2="752.5" stroke="#000000"/>
<line x1="550.6" y1="778.38" x2="573.9" y2="778.38" stroke="#4477AA"/>
<line x1="550.6" y1="804.26" x2="573.9" y2="804.26" stroke="#228833"/>
<line x1="550.6" y1="830.14" x2="573.9" y2="830.14" stroke="#EE6677"/>
<line x1="550.6" y1="856.02" x2="573.9" y2="856.02" stroke="#DDAA33"/>
<line x1="550.6" y1="881.9" x2="573.9" y2="881.9" stroke="#AA3377"/>
<line x1="550.6" y1="907.78" x2="573.9" y2="907.78" stroke="#66CCEE"/>
<line x1="550.6" y1="933.66" x2="562.7" y2="933.66" stroke="#000000"/>
<line x1="550.6" y1="959.54" x2="562.7" y2="959.54" stroke="#4477AA"/>
<line x1="550.6" y1="985.42" x2="562.7" y2="985.42" stroke="#228833"/>
<line x1="550.6" y1="1011.3" x2="562.7" y2="1011.3" stroke="#EE6677"/>
<line x1="550.6" y1="1037.18" x2="562.7" y2="1037.18" stroke="#DDAA33"/>
<line x1="550.6" y1="1063.06" x2="562.7" y2="1063.06" stroke="#AA3377"/>
<line x1="550.6" y1="1088.94" x2="562.7" y2="1088.94" stroke="#66CCEE"/>
</g>
<g font-size="22" fill="#000">
<text transform="translate(576 761.1) scale(1.005 1)">2 mm</text>
<text transform="translate(576 786.98) scale(1.005 1)">10 mm</text>
<text transform="translate(576 812.86) scale(1.005 1)">20 mm</text>
<text transform="translate(576 838.74) scale(1.005 1)">30 mm</text>
<text transform="translate(576 864.62) scale(1.005 1)">40 mm</text>
<text transform="translate(576 890.5) scale(1.005 1)">50 mm</text>
<text transform="translate(576 916.38) scale(1.005 1)">Back</text>
<text transform="translate(576 942.26) scale(1.005 1)">2 mm sim</text>
<text transform="translate(576 968.14) scale(1.005 1)">10 mm sim</text>
<text transform="translate(576 994.02) scale(1.005 1)">20 mm sim</text>
<text transform="translate(576 1019.9) scale(1.005 1)">30 mm sim</text>
<text transform="translate(576 1045.78) scale(1.005 1)">40 mm sim</text>
<text transform="translate(576 1071.66) scale(1.005 1)">50 mm sim</text>
<text transform="translate(576 1097.54) scale(1.005 1)">Back sim</text>
</g>
<text x="342" y="1280.2" font-size="39.2" text-anchor="middle" textLength="253.2" lengthAdjust="spacingAndGlyphs" fill="#000">(b) Temperature</text>
<g stroke="#dedede" stroke-width="1">
<line x1="82.9" y1="1329.9" x2="82.9" y2="1803.2"/>
<line x1="230" y1="1329.9" x2="230" y2="1803.2"/>
<line x1="377.1" y1="1329.9" x2="377.1" y2="1803.2"/>
<line x1="524.2" y1="1329.9" x2="524.2" y2="1803.2"/>
<line x1="82.9" y1="1803.2" x2="524.2" y2="1803.2"/>
<line x1="82.9" y1="1708.54" x2="524.2" y2="1708.54"/>
<line x1="82.9" y1="1613.88" x2="524.2" y2="1613.88"/>
<line x1="82.9" y1="1519.22" x2="524.2" y2="1519.22"/>
<line x1="82.9" y1="1424.56" x2="524.2" y2="1424.56"/>
<line x1="82.9" y1="1329.9" x2="524.2" y2="1329.9"/>
</g>
<g stroke="#2a2a2a" stroke-width="1.5" fill="none">
<path d="M82.9 1329.15 V1803.2 H524.95"/>
<line x1="82.9" y1="1803.2" x2="82.9" y2="1798.2"/>
<line x1="230" y1="1803.2" x2="230" y2="1798.2"/>
<line x1="377.1" y1="1803.2" x2="377.1" y2="1798.2"/>
<line x1="524.2" y1="1803.2" x2="524.2" y2="1798.2"/>
<line x1="82.9" y1="1803.2" x2="87.9" y2="1803.2"/>
<line x1="82.9" y1="1708.54" x2="87.9" y2="1708.54"/>
<line x1="82.9" y1="1613.88" x2="87.9" y2="1613.88"/>
<line x1="82.9" y1="1519.22" x2="87.9" y2="1519.22"/>
<line x1="82.9" y1="1424.56" x2="87.9" y2="1424.56"/>
<line x1="82.9" y1="1329.9" x2="87.9" y2="1329.9"/>
</g>
<g fill="none" stroke-width="3.3" stroke-linejoin="round" clip-path="url(#cc)">
<path d="M82.9 1802.2 L91.39 1800.98 L98.98 1798.51 L108.47 1797.56 L117.96 1799.46 L127.45 1799.46 L140.73 1799.46 L152.12 1798.13 L157.81 1794.9 L163.51 1789.53 L167.3 1785.47 L174.6 1776.63 L180.44 1764.84 L186.28 1750.11 L192.12 1733.89 L196.28 1719.6 L204.16 1716.55 L214.67 1714.96 L222.56 1710.98 L229.12 1705.68 L235.69 1701.7 L243.58 1699.05 L248.83 1695.11 L254.09 1692.48 L260 1687.23 L263.87 1679.71 L271.47 1670.22 L280.19 1659.24 L293.65 1643.51 L305.04 1631.17 L325.92 1617.89 L344.89 1605.55 L363.87 1591.32 L380.01 1579.93 L385.18 1577.01 L401.53 1573.5 L416.72 1577.01 L427.23 1576.54 L444.75 1586.35 L461.1 1596.16 L475.12 1607.37 L487.96 1617.89 L505.48 1628.4 L524.17 1640.08" stroke="#4477AA"/>
<path d="M82.9 1802.2 L155.92 1800.6 L163.51 1798.13 L167.3 1795.79 L173.14 1789.89 L178.98 1772.21 L186.28 1747.16 L194.31 1720.13 L200.22 1695.11 L204.16 1676.72 L208.1 1660.95 L213.36 1645.18 L218.61 1629.42 L223.87 1613.65 L229.12 1599.2 L236.06 1578.69 L243.65 1559.71 L251.24 1543.58 L256.94 1535.99 L264.53 1528.97 L272.12 1525.55 L281.61 1520.8 L298.69 1520.24 L308.18 1512.26 L321.47 1501.26 L329.75 1505.59 L340.88 1505.17 L357.96 1502.13 L373.14 1503.65 L385.48 1504.03 L401.61 1510.86 L418.83 1520.98 L437.96 1536.79 L456.94 1551.98 L475.92 1566.78 L500.81 1587.52 L524.17 1604.57" stroke="#228833"/>
<path d="M82.9 1802.2 L171.1 1800.6 L174.6 1798.71 L183.36 1791.37 L189.2 1784 L196.5 1772.21 L203.8 1758.95 L211.09 1742.74 L218.39 1725.05 L222.56 1720.13 L227.81 1705.68 L233.07 1692.48 L238.32 1679.34 L243.58 1666.21 L248.83 1651.75 L254.09 1635.99 L260 1618.25 L272.12 1591.98 L279.71 1573 L287.3 1556.86 L297.74 1544.53 L304.38 1545.48 L314.82 1540.73 L324.53 1524.09 L337.08 1509.35 L342.77 1497.01 L348.47 1484.67 L357.96 1475.18 L367.45 1465 L375.04 1460.52 L386.43 1456.15 L395.99 1455.73 L408.47 1454.23 L426.72 1460.07 L442.74 1471.53 L460.73 1489.35 L475.92 1505.48 L489.2 1519.71 L500.59 1530.15 L513.87 1542.49 L524.12 1551.98" stroke="#EE6677"/>
<path d="M82.9 1802.2 L163.51 1800.6 L174.75 1798.06 L189.2 1795.79 L197.96 1786.95 L205.26 1770.74 L211.09 1751.58 L216.93 1730.95 L220.58 1720.13 L225.18 1703.02 L229.12 1687.23 L233.07 1671.46 L238.32 1653.07 L243.58 1635.99 L248.83 1616.28 L252.77 1599.2 L256.94 1574.89 L264.53 1548.32 L272.12 1519.86 L279.71 1495.18 L286.5 1470.01 L291.24 1450.08 L302.63 1423.51 L315.92 1401.68 L327.3 1386.5 L338.69 1374.16 L354.02 1366.57 L365.55 1363.72 L379.78 1370.37 L395.92 1384.6 L417.96 1411.17 L429.64 1432.34 L441.31 1452.77 L455.22 1473.47 L466.43 1486.5 L477.81 1500.73 L489.2 1514.97 L500.59 1526.35 L513.87 1540.59 L524.12 1551.98" stroke="#DDAA33"/>
<path d="M82.9 1802.2 L174.89 1800.98 L181.9 1800.9 L203.8 1800.17 L218.39 1790.63 L230.07 1773.68 L240.29 1751.58 L246.13 1729.47 L248.83 1720.13 L251.46 1708.33 L255.73 1681.32 L260 1664.89 L263.87 1660.73 L271.47 1639.86 L280.01 1613.29 L289.2 1588.18 L296.79 1565.41 L302.49 1541.68 L310.08 1523.65 L317.67 1508.47 L325.26 1489.49 L334.89 1470.01 L341.54 1458.62 L350.08 1449.13 L359.71 1436.79 L369.68 1429.2 L380.73 1422.56 L395.92 1421.23 L406.28 1425.04 L417.96 1429.42 L431.09 1436.72 L444.23 1446.93 L458.83 1458.61 L471.32 1465.04 L485.41 1473.21 L500.59 1481.75 L506.28 1485.55 L513.87 1492.19 L524.12 1500.35" stroke="#AA3377"/>
<path d="M82.9 1803.1 C92.42 1803.1 124.78 1803.33 140 1803.1 C155.22 1802.87 168.02 1802.73 174.2 1801.7 C180.38 1800.67 176.13 1798.74 177.1 1796.9 C178.07 1795.06 177.45 1794.52 180 1790.65 C182.55 1786.78 188.22 1779.71 192.4 1773.69 C196.58 1767.67 200.95 1761.28 205.1 1754.51 C209.25 1747.75 213.65 1739.25 217.3 1733.11 C220.95 1726.97 223.55 1721.37 227 1717.67 C230.45 1713.96 234.83 1712.35 238 1710.9 C241.17 1709.46 243.17 1709.37 246 1708.98 C248.83 1708.6 251.83 1708.46 255 1708.58 C258.17 1708.7 260.9 1709.02 265 1709.69 C269.1 1710.36 273.67 1710.95 279.6 1712.62 C285.53 1714.28 293.4 1717.21 300.6 1719.68 C307.8 1722.16 315.4 1725.1 322.8 1727.46 C330.2 1729.81 337.6 1731.76 345 1733.82 C352.4 1735.87 359.53 1737.74 367.2 1739.77 C374.87 1741.81 383.33 1744.2 391 1746.03 C398.67 1747.87 405.6 1749.25 413.2 1750.78 C420.8 1752.31 429 1753.69 436.6 1755.22 C444.2 1756.75 451.4 1758.47 458.8 1759.96 C466.2 1761.46 473.62 1762.91 481 1764.2 C488.38 1765.5 495.9 1766.64 503.1 1767.74 C510.3 1768.83 520.68 1770.26 524.2 1770.76" stroke="#4477AA" stroke-dasharray="11.8 11.8"/>
<path d="M82.9 1803.1 C92.42 1803.1 124.72 1803.33 140 1803.1 C155.28 1802.87 168.35 1802.73 174.6 1801.7 C180.85 1800.67 176.53 1798.74 177.5 1796.9 C178.47 1795.06 177.85 1794.52 180.4 1790.65 C182.95 1786.78 188.62 1779.71 192.8 1773.69 C196.98 1767.67 201.35 1761.28 205.5 1754.51 C209.65 1747.75 213.37 1739.74 217.7 1733.11 C222.03 1726.48 227 1720.26 231.5 1714.74 C236 1709.22 241.12 1703.87 244.7 1700 C248.28 1696.13 250.12 1694.25 253 1691.5 C255.88 1688.75 258.83 1686 262 1683.5 C265.17 1681 268.48 1678.43 272 1676.5 C275.52 1674.57 279.27 1673.02 283.1 1671.9 C286.93 1670.78 291.12 1670.12 295 1669.8 C298.88 1669.48 302.57 1669.7 306.4 1670 C310.23 1670.3 314.1 1670.9 318 1671.6 C321.9 1672.3 324.13 1672.33 329.8 1674.2 C335.47 1676.07 344.8 1679.78 352 1682.8 C359.2 1685.82 366.1 1689.16 373 1692.3 C379.9 1695.44 386.4 1698.58 393.4 1701.62 C400.4 1704.65 407.7 1707.72 415 1710.5 C422.3 1713.27 429.8 1715.75 437.2 1718.27 C444.6 1720.8 452.1 1723.18 459.4 1725.64 C466.7 1728.1 473.72 1730.64 481 1733.01 C488.28 1735.38 495.9 1737.82 503.1 1739.87 C510.3 1741.93 520.68 1744.42 524.2 1745.33" stroke="#228833" stroke-dasharray="11.8 11.8"/>
<path d="M82.9 1803.1 C92.42 1803.1 124.32 1803.33 140 1803.1 C155.68 1802.87 170.35 1802.73 177 1801.7 C183.65 1800.67 178.93 1798.74 179.9 1796.9 C180.87 1795.06 180.25 1794.52 182.8 1790.65 C185.35 1786.78 191.02 1779.71 195.2 1773.69 C199.38 1767.67 203.75 1761.28 207.9 1754.51 C212.05 1747.75 215.8 1739.44 220.1 1733.11 C224.4 1726.78 228.87 1722.22 233.7 1716.56 C238.53 1710.89 243.92 1704.76 249.1 1699.1 C254.28 1693.44 259.27 1687.85 264.8 1682.6 C270.33 1677.35 276.17 1672.07 282.3 1667.6 C288.43 1663.13 294.8 1659.18 301.6 1655.8 C308.4 1652.42 317.53 1649 323.1 1647.3 C328.67 1645.6 331.05 1645.85 335 1645.6 C338.95 1645.35 342.97 1645.57 346.8 1645.8 C350.63 1646.03 354.17 1646.32 358 1647 C361.83 1647.68 364.3 1647.93 369.8 1649.9 C375.3 1651.87 383.97 1655.68 391 1658.8 C398.03 1661.92 405.07 1665.3 412 1668.6 C418.93 1671.9 425.68 1675.12 432.6 1678.6 C439.52 1682.08 446.6 1686.12 453.5 1689.5 C460.4 1692.88 467.08 1695.67 474 1698.9 C480.92 1702.13 488 1705.81 495 1708.88 C502 1711.96 511.13 1715.39 516 1717.36 C520.87 1719.33 522.83 1720.14 524.2 1720.69" stroke="#EE6677" stroke-dasharray="11.8 11.8"/>
<path d="M82.9 1803.1 C92.42 1803.1 123.88 1803.33 140 1803.1 C156.12 1802.87 172.52 1802.73 179.6 1801.7 C186.68 1800.67 181.53 1798.74 182.5 1796.9 C183.47 1795.06 182.85 1794.52 185.4 1790.65 C187.95 1786.78 193.62 1779.71 197.8 1773.69 C201.98 1767.67 206.35 1761.28 210.5 1754.51 C214.65 1747.75 218.22 1739 222.7 1733.11 C227.18 1727.22 232.43 1724.45 237.4 1719.18 C242.37 1713.91 247.45 1707.08 252.5 1701.51 C257.55 1695.95 262.17 1690.89 267.7 1685.8 C273.23 1680.71 279.48 1675.68 285.7 1671 C291.92 1666.32 298.55 1661.9 305 1657.7 C311.45 1653.5 317.6 1649.18 324.4 1645.8 C331.2 1642.42 340.2 1639.33 345.8 1637.4 C351.4 1635.47 354.13 1635.05 358 1634.2 C361.87 1633.35 365.33 1632.65 369 1632.3 C372.67 1631.95 376.13 1631.9 380 1632.1 C383.87 1632.3 386.47 1632.28 392.2 1633.5 C397.93 1634.72 407.2 1636.93 414.4 1639.4 C421.6 1641.87 428.4 1645.07 435.4 1648.3 C442.4 1651.53 449.38 1655.18 456.4 1658.8 C463.42 1662.42 470.68 1666.3 477.5 1670 C484.32 1673.7 490.5 1677.42 497.3 1681 C504.1 1684.58 513.82 1689.37 518.3 1691.5 C522.78 1693.63 523.22 1693.42 524.2 1693.8" stroke="#DDAA33" stroke-dasharray="11.8 11.8"/>
<path d="M82.9 1803.1 C92.42 1803.1 123.42 1803.33 140 1803.1 C156.58 1802.87 174.85 1802.73 182.4 1801.7 C189.95 1800.67 184.33 1798.74 185.3 1796.9 C186.27 1795.06 185.65 1794.52 188.2 1790.65 C190.75 1786.78 196.42 1779.71 200.6 1773.69 C204.78 1767.67 209.15 1761.28 213.3 1754.51 C217.45 1747.75 220.97 1738.44 225.5 1733.11 C230.03 1727.78 235.43 1727.14 240.5 1722.51 C245.57 1717.88 250.58 1710.75 255.9 1705.35 C261.22 1699.95 266.48 1694.88 272.4 1690.1 C278.32 1685.32 285.17 1681.3 291.4 1676.7 C297.63 1672.1 303.42 1666.83 309.8 1662.5 C316.18 1658.17 322.9 1654.33 329.7 1650.7 C336.5 1647.07 343.48 1643.63 350.6 1640.7 C357.72 1637.77 365.08 1634.95 372.4 1633.1 C379.72 1631.25 388.9 1630.28 394.5 1629.6 C400.1 1628.92 402.1 1629 406 1629 C409.9 1629 412.03 1628.92 417.9 1629.6 C423.77 1630.28 433.62 1631.35 441.2 1633.1 C448.78 1634.85 456.18 1637.38 463.4 1640.1 C470.62 1642.82 477.48 1646.1 484.5 1649.4 C491.52 1652.7 498.88 1656.47 505.5 1659.9 C512.12 1663.33 521.08 1668.32 524.2 1670" stroke="#AA3377" stroke-dasharray="11.8 11.8"/>
</g>
<g font-size="24.8" fill="#262626">
<text transform="translate(82.9 1832.4)" text-anchor="middle">0</text>
<text transform="translate(230 1832.4)" text-anchor="middle">100</text>
<text transform="translate(377.1 1832.4)" text-anchor="middle">200</text>
<text transform="translate(524.2 1832.4)" text-anchor="middle">300</text>
<text transform="translate(75.8 1812.2)" text-anchor="end">0</text>
<text transform="translate(75.8 1717.54)" text-anchor="end">200</text>
<text transform="translate(75.8 1622.88)" text-anchor="end">400</text>
<text transform="translate(75.8 1528.22)" text-anchor="end">600</text>
<text transform="translate(75.8 1433.56)" text-anchor="end">800</text>
<text transform="translate(75.8 1338.9)" text-anchor="end">1000</text>
</g>
<g font-size="27.2" fill="#262626">
<text transform="translate(303.7 1862.2)" text-anchor="middle">Time (min)</text>
<text transform="translate(18.9 1566.6) rotate(-90)" text-anchor="middle">Pressure (kPa)</text>
</g>
<rect x="548.5" y="1435.5" width="130.6" height="260.8" fill="#fff" stroke="#2a2a2a" stroke-width="1.5"/>
<g stroke-width="3.3">
<line x1="551" y1="1450" x2="574.3" y2="1450" stroke="#4477AA"/>
<line x1="551" y1="1475.77" x2="574.3" y2="1475.77" stroke="#228833"/>
<line x1="551" y1="1501.54" x2="574.3" y2="1501.54" stroke="#EE6677"/>
<line x1="551" y1="1527.31" x2="574.3" y2="1527.31" stroke="#DDAA33"/>
<line x1="551" y1="1553.08" x2="574.3" y2="1553.08" stroke="#AA3377"/>
<line x1="551" y1="1578.85" x2="563.1" y2="1578.85" stroke="#4477AA"/>
<line x1="551" y1="1604.62" x2="563.1" y2="1604.62" stroke="#228833"/>
<line x1="551" y1="1630.39" x2="563.1" y2="1630.39" stroke="#EE6677"/>
<line x1="551" y1="1656.16" x2="563.1" y2="1656.16" stroke="#DDAA33"/>
<line x1="551" y1="1681.93" x2="563.1" y2="1681.93" stroke="#AA3377"/>
</g>
<g font-size="22" fill="#000">
<text transform="translate(577 1458.6) scale(1.005 1)">10 mm</text>
<text transform="translate(577 1484.37) scale(1.005 1)">20 mm</text>
<text transform="translate(577 1510.14) scale(1.005 1)">30 mm</text>
<text transform="translate(577 1535.91) scale(1.005 1)">40 mm</text>
<text transform="translate(577 1561.68) scale(1.005 1)">50 mm</text>
<text transform="translate(577 1587.45) scale(1.005 1)">10 mm sim</text>
<text transform="translate(577 1613.22) scale(1.005 1)">20 mm sim</text>
<text transform="translate(577 1638.99) scale(1.005 1)">30 mm sim</text>
<text transform="translate(577 1664.76) scale(1.005 1)">40 mm sim</text>
<text transform="translate(577 1690.53) scale(1.005 1)">50 mm sim</text>
</g>
<text x="341.6" y="1922.8" font-size="39.2" text-anchor="middle" textLength="184.6" lengthAdjust="spacingAndGlyphs" fill="#000">(c) Pressure</text>
</svg>
</body></html>
